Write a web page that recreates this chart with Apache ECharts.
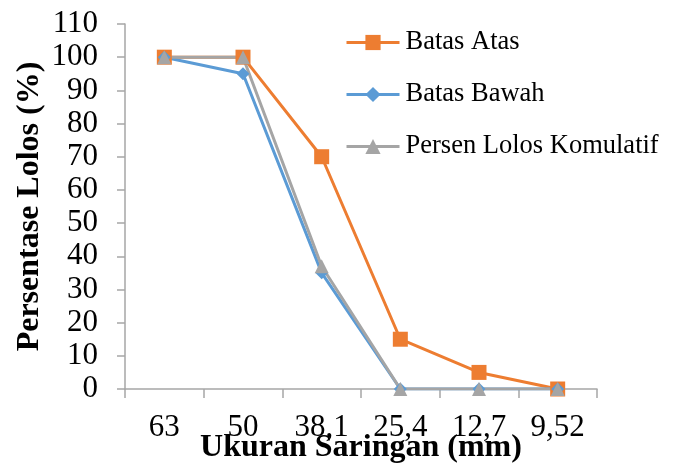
<!DOCTYPE html>
<html>
<head>
<meta charset="utf-8">
<script src="https://cdn.jsdelivr.net/npm/echarts@6/dist/echarts.min.js"></script>
<style>html,body{margin:0;padding:0;background:#fff;}#c{width:676px;height:466px;}</style>
</head>
<body>
<div id="c"></div>
<script>
const categories = ['63', '50', '38,1', '25,4', '12,7', '9,52'];
const batasAtas = [100, 100, 70, 15, 5, 0];
const batasBawah = [100, 95, 35, 0, 0, 0];
const persenLolos = [100, 100, 37, 0, 0, 0];
const seriesNames = ['Batas Atas', 'Batas Bawah', 'Persen Lolos Komulatif'];

const font = 'Liberation Serif';
const chart = echarts.init(document.getElementById('c'));
chart.setOption({
  animation: false,
  backgroundColor: '#fff',
  grid: {left: 125, right: 79, top: 24, bottom: 77, containLabel: false, outerBoundsMode: 'none'},
  legend: {
    orient: 'vertical', left: 345, top: 29, itemGap: 25, padding: 0,
    itemWidth: 53, itemHeight: 19,
    lineStyle: {width: 3},
    textStyle: {fontFamily: font, fontSize: 26.5, color: '#000', padding: [0,0,0,1]},
    data: seriesNames
  },
  xAxis: {
    type: 'category', data: categories, boundaryGap: true,
    name: 'Ukuran Saringan (mm)', nameLocation: 'middle', nameGap: 43, nameMoveOverlap: false,
    nameTextStyle: {fontFamily: font, fontSize: 32, fontWeight: 'bold', color: '#000'},
    axisLine: {lineStyle: {color: '#a6a6a6', width: 1.5}},
    axisTick: {show: true, length: 9, lineStyle: {color: '#a6a6a6', width: 1.5}},
    axisLabel: {fontFamily: font, fontSize: 31, color: '#000', margin: 23},
    splitLine: {show: false}
  },
  yAxis: {
    type: 'value', min: 0, max: 110, interval: 10,
    name: 'Persentase Lolos (%)', nameLocation: 'middle', nameGap: 79, nameMoveOverlap: false,
    nameTextStyle: {fontFamily: font, fontSize: 32, fontWeight: 'bold', color: '#000'},
    axisLine: {show: true, lineStyle: {color: '#a6a6a6', width: 1.5}},
    axisTick: {show: true, length: 8, lineStyle: {color: '#a6a6a6', width: 1.5}},
    axisLabel: {fontFamily: font, fontSize: 31, color: '#000', margin: 27},
    splitLine: {show: false}
  },
  series: [
    {name: seriesNames[0], type: 'line', data: batasAtas, symbol: 'rect', symbolSize: 15,
     lineStyle: {width: 3, color: '#ED7D31'}, itemStyle: {color: '#ED7D31'}},
    {name: seriesNames[1], type: 'line', data: batasBawah, symbol: 'diamond', symbolSize: 13,
     lineStyle: {width: 3, color: '#5B9BD5'}, itemStyle: {color: '#5B9BD5'}},
    {name: seriesNames[2], type: 'line', data: persenLolos, symbol: 'triangle', symbolSize: 14,
     lineStyle: {width: 3, color: '#A5A5A5'}, itemStyle: {color: '#A5A5A5'}}
  ]
});
</script>
</body>
</html>
